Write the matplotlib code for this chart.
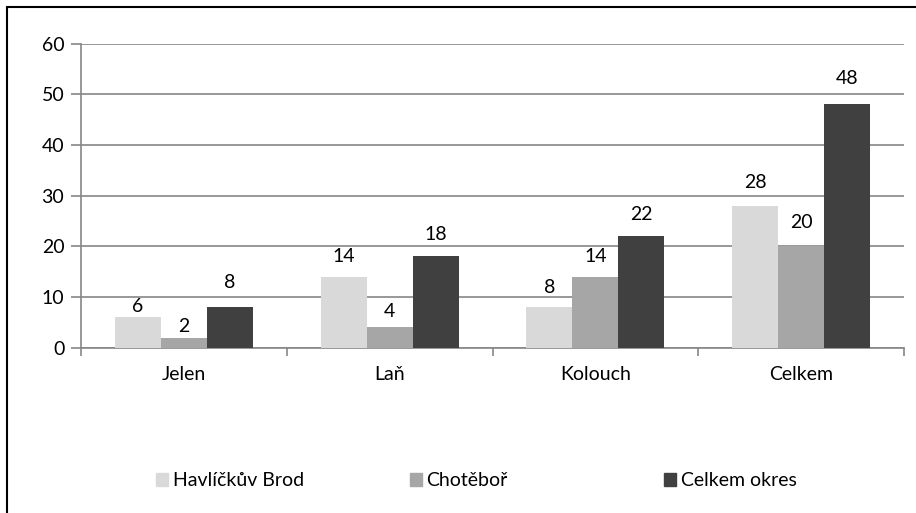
import numpy as np
import matplotlib.pyplot as plt
from matplotlib.patches import Rectangle

plt.rcParams['font.family'] = ['Lato', 'DejaVu Sans']

categories = ["Jelen", "Laň", "Kolouch", "Celkem"]
series = ["Havlíčkův Brod", "Chotěboř", "Celkem okres"]
havlickuv_brod = [6, 14, 8, 28]
chotebor = [2, 4, 14, 20]
celkem_okres = [8, 18, 22, 48]
values = [havlickuv_brod, chotebor, celkem_okres]
colors = ["#d9d9d9", "#a6a6a6", "#404040"]
grid_col = "#868686"
fs = 14

# distance (px) of label centre above bar top, per series
label_gap = [[11, 20, 20, 23],
             [11, 16, 20, 24],
             [25, 22, 22, 26]]

W, H = 916, 513
fig = plt.figure(figsize=(W / 100, H / 100), dpi=100)
ax = fig.add_axes([81 / W, 1 - 347.7 / H, (904 - 81) / W, (347.7 - 43.7) / H])

# frame around chart (only left and top edge visible)
fig.patches.append(Rectangle((7 / W, -0.1), 1.2, 1 - 7 / H + 0.1, transform=fig.transFigure,
                             fill=False, edgecolor="black", linewidth=1.5))

x = np.arange(len(categories))
bw = 0.2236
for i, (vals, col) in enumerate(zip(values, colors)):
    pos = x + (i - 1) * bw
    bars = ax.bar(pos, vals, width=bw, color=col, label=series[i], zorder=3)
    for j, (b, v) in enumerate(zip(bars, vals)):
        ax.annotate(str(v), (b.get_x() + b.get_width() / 2, v), xytext=(0, label_gap[i][j] * 0.72),
                    textcoords="offset points", ha="center", va="center", fontsize=fs)

ax.set_xlim(-0.5, len(categories) - 0.5)
ax.set_ylim(0, 60)
ax.set_yticks(range(0, 61, 10))
ax.yaxis.grid(True, color=grid_col, linewidth=1.2, zorder=0)
ax.set_axisbelow(True)

ax.set_xticks(x)
ax.set_xticklabels(categories, fontsize=fs)
ax.tick_params(axis="x", length=0, pad=13)
ax.set_xticks(np.arange(-0.5, len(categories), 1), minor=True)
ax.tick_params(axis="x", which="minor", length=6, color=grid_col, width=1.2)
ax.tick_params(axis="y", length=7, color=grid_col, width=1.2, labelsize=fs, pad=5)

for s in ["top", "right"]:
    ax.spines[s].set_visible(False)
for s in ["left", "bottom"]:
    ax.spines[s].set_color(grid_col)
    ax.spines[s].set_linewidth(1.2)

# legend entries laid out in equal columns like Excel
leg_x = [156, 410, 664]
for i in range(3):
    h = Rectangle((0, 0), 1, 1, color=colors[i])
    fig.legend([h], [series[i]], loc="center left", bbox_to_anchor=(leg_x[i] / W, 1 - 481 / H),
               frameon=False, fontsize=fs, handlelength=0.6, handleheight=0.6,
               handletextpad=0.25, borderpad=0, borderaxespad=0)

fig.savefig("out.png", dpi=100)
